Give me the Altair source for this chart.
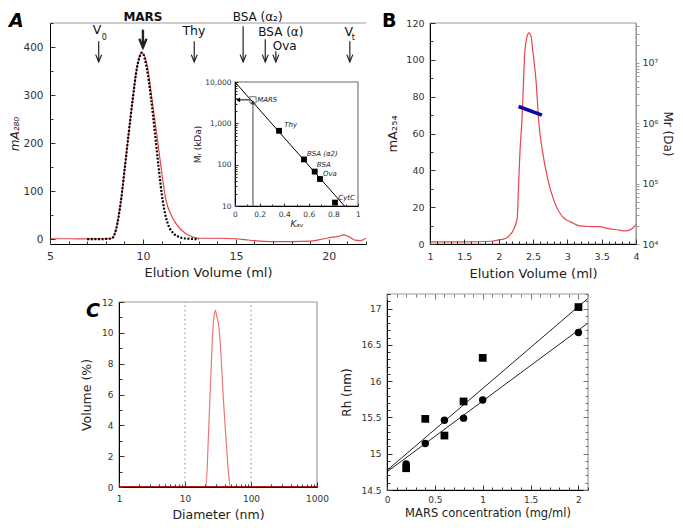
import altair as alt
import pandas as pd

FONT = "DejaVu Sans"
RED = "#e4474c"
GRAY = "#9c9c9c"
BLUE = "#0a0aa8"
TICK = "#333333"

# ---------------- Panel A: elution profile ----------------
a_red_x = [5, 6, 7, 8, 8.37, 8.55, 8.82, 9.03, 9.23, 9.44, 9.68, 9.95, 10.25, 10.5, 10.74,
           10.97, 11.24, 11.5, 11.77, 12.3, 13.1, 14, 15, 15.5, 16, 17, 18, 19, 19.5, 20,
           20.5, 20.8, 21.1, 21.4, 21.7, 22]
a_red_y = [1, 1, 0.5, 1, 3, 20, 81, 151, 220, 289, 358, 389, 358, 289, 220,
           151, 81, 52, 33, 12, 2, 2, 1, -1, -3, -5, -5, -4, -1, 3,
           6, 9, 5, -2, -3, 2]
a_fit_x = [7.0, 7.5, 8.0, 8.2, 8.37, 8.55, 8.82, 9.03, 9.23, 9.44, 9.68, 9.95, 10.2, 10.45,
           10.65, 10.84, 11.06, 11.33, 11.6, 11.87, 12.2, 12.5, 13.0]
a_fit_y = [0, 0, 0.5, 1, 3, 20, 81, 151, 220, 289, 358, 389, 358, 289,
           220, 151, 81, 33, 14, 6, 2, 1, 0]

arrow_x = [7.62, 10.0, 12.76, 15.39, 16.58, 17.15, 21.13]
arrow_top = [413, 437, 413, 444, 417, 392, 413]
arrow_tip = [370, 400, 370, 370, 370, 370, 370]
arrow_w = [1.2, 2.4, 1.2, 1.2, 1.2, 1.2, 1.2]
arrow_head = [36, 52, 36, 36, 36, 36, 36]

marker_text = ["V", "0", "Thy", "BSA (α₂)", "BSA (α)", "Ova", "V", "t"]
marker_x = [7.53, 7.92, 12.74, 16.17, 17.42, 17.63, 21.07, 21.32]
marker_y = [437, 420, 434, 463, 432, 404, 432, 420]
marker_size = [12.5, 8, 12.5, 12, 12, 12, 12.5, 8]
mars_x = [10.0]
mars_y = [463]

# inset: calibration
std_kav = [0.358, 0.561, 0.648, 0.691, 0.813]
std_mr = [660, 134, 68, 45, 12.1]
fit_kav = [0.0, 0.89]
fit_mr = [10000, 10]
mars_kav = [0.146]
mars_mr = [3700]
ins_lab = ["MARS", "Thy", "BSA (α2)", "BSA", "Ova", "CytC"]
ins_lab_x = [0.18, 0.40, 0.585, 0.665, 0.715, 0.84]
ins_lab_y = [3700, 900, 185, 97, 58, 16]

# ---------------- Panel B: MALS ----------------
b_x = [1, 1.5, 1.9, 2.0, 2.1, 2.15, 2.22, 2.27, 2.29, 2.31, 2.34, 2.36, 2.38, 2.41, 2.44,
       2.47, 2.50, 2.55, 2.58, 2.64, 2.71, 2.81, 2.95, 3.05, 3.18, 3.3, 3.47, 3.6, 3.75,
       3.84, 3.92, 4.0]
b_y = [1.2, 1.2, 1.5, 2.2, 3, 4.4, 8, 14, 32, 50, 68, 86, 104, 112, 114.6,
       113, 104, 86, 68, 50, 36, 23, 14, 12, 9.8, 9.5, 9.4, 8.3, 7.6,
       7.1, 7.8, 10.5]
b_mr_x = [2.29, 2.63]
b_mr_y = [1.89e6, 1.36e6]

# ---------------- Panel C: DLS ----------------
c_d = [1, 20.8, 22.6, 23.9, 25.4, 26.5, 27.6, 28.8, 30.2, 32.8, 35.1, 38.0, 41.7, 45.0, 48.6, 1000]
c_v = [0, 0, 3.2, 5.8, 8.6, 10.3, 11.1, 11.46, 11.1, 10.3, 8.6, 5.8, 3.2, 1.2, 0, 0]
c_base_d = [1, 1000]
c_base_v = [0, 0]
c_grid = [10, 100]

# ---------------- Panel D: Rh vs concentration ----------------
d_sq_x = [0.2, 0.4, 0.6, 0.8, 1.0, 2.0]
d_sq_y = [14.80, 15.48, 15.25, 15.72, 16.32, 17.02]
d_ci_x = [0.2, 0.4, 0.6, 0.8, 1.0, 2.0]
d_ci_y = [14.86, 15.14, 15.46, 15.49, 15.74, 16.67]
d_fit_x = [0, 2.1, 0, 2.1]
d_fit_y = [14.77, 17.14, 14.75, 16.80]
d_fit_s = ["sq", "sq", "ci", "ci"]

# ---------------- tick positions ----------------
a_xmaj, a_xmin = [5, 10, 15, 20], [v for v in range(6, 23) if v % 5]
a_ymaj, a_ymin = [0, 100, 200, 300, 400], [50, 150, 250, 350, 450]
i_xmaj, i_xmin = [0, 0.2, 0.4, 0.6, 0.8, 1], [0.1, 0.3, 0.5, 0.7, 0.9]
i_ymaj = [10, 100, 1000, 10000]
i_ymin = [m * 10 ** e for e in (1, 2, 3) for m in range(2, 10)]
b_xmaj = [1, 1.5, 2, 2.5, 3, 3.5, 4]
b_xmin = [round(1 + 0.1 * i, 1) for i in range(31) if i % 5]
b_ymaj, b_ymin = [0, 20, 40, 60, 80, 100, 120], [10, 30, 50, 70, 90, 110]
b_rmaj = [1e4, 1e5, 1e6, 1e7]
b_rmin = [m * 10 ** e for e in (4, 5, 6) for m in range(2, 10)] + [2e7, 3e7, 4e7]
c_xmaj = [1, 10, 100, 1000]
c_xmin = [m * 10 ** e for e in (0, 1, 2) for m in range(2, 10)]
c_ymaj, c_ymin = [0, 2, 4, 6, 8, 10, 12], [1, 3, 5, 7, 9, 11]
d_xmaj = [0, 0.5, 1, 1.5, 2]
d_xmin = [round(0.1 * i, 1) for i in range(22) if i % 5]
d_ymaj = [14.5, 15, 15.5, 16, 16.5, 17]
d_ymin = [round(14.5 + 0.1 * i, 1) for i in range(28) if i % 5]

# ---------------- layout (pixels inside one shared view) ----------------
W, H = 586, 467
A_X, A_Y = [0, 316], [221, 0]
I_X, I_Y = [185, 308], [183, 59]
B_X, B_Y = [380, 586], [221, 0]
C_X, C_Y = [69, 267], [464, 279]
D_X, D_Y = [337, 538], [467, 271]


def txt(t, x, y, size=19, italic=True, bold=True):
    return alt.Chart(pd.DataFrame({"t": [t]})).mark_text(
        align="left", baseline="alphabetic", fontSize=size,
        fontWeight="bold" if bold else "normal",
        fontStyle="italic" if italic else "normal", font=FONT, color="black"
    ).encode(x=alt.value(x), y=alt.value(y), text="t:N")


def ticks(xs, ys, x0, y0, xv, yv, size, xpos, ypos, xside="in_bottom", yside="in_left", color=TICK):
    """Invisible mark that only carries tick-only axes drawn inward at the given pixel lines."""
    if xside == "in_bottom":
        xa = alt.Axis(orient="top", offset=-xpos, values=xv, labels=False, domain=False,
                      tickSize=size, tickColor=color, title="", zindex=2)
    else:
        xa = alt.Axis(orient="bottom", offset=xpos - H, values=xv, labels=False, domain=False,
                      tickSize=size, tickColor=color, title="", zindex=2)
    if yside == "in_left":
        ya = alt.Axis(orient="right", offset=ypos - W, values=yv, labels=False, domain=False,
                      tickSize=size, tickColor=color, title="", zindex=2)
    else:
        ya = alt.Axis(orient="left", offset=-ypos, values=yv, labels=False, domain=False,
                      tickSize=size, tickColor=color, title="", zindex=2)
    return alt.Chart(pd.DataFrame({"x": [x0], "y": [y0]})).mark_point(opacity=0, size=1).encode(
        x=alt.X("x:Q", scale=xs, axis=xa), y=alt.Y("y:Q", scale=ys, axis=ya))


anchor = alt.Chart(pd.DataFrame({"v": [0]})).mark_point(size=1, opacity=0).encode(
    x=alt.value(-41), y=alt.value(-14))

# ---------- A main ----------
axs = alt.Scale(domain=[5, 22], range=A_X, nice=False, zero=False)
ays = alt.Scale(domain=[-10, 451], range=A_Y, nice=False, zero=False)
a_xaxis = alt.Axis(orient="bottom", offset=-(H - A_Y[0]), values=a_xmaj, ticks=False,
                   labelFlush=False, title="Elution Volume (ml)", titleFontSize=13,
                   labelFontSize=11, labelPadding=6, titlePadding=5, zindex=1)
a_yaxis = alt.Axis(orient="left", values=a_ymaj, ticks=False, title="mA₂₈₀",
                   titleFontSize=12, titleFontStyle="italic", labelFontSize=10.5,
                   labelPadding=7, titlePadding=1, zindex=1)

a_red = alt.Chart(pd.DataFrame({"x": a_red_x, "y": a_red_y})).mark_line(
    color=RED, strokeWidth=1.2, interpolate="monotone"
).encode(x=alt.X("x:Q", scale=axs, axis=a_xaxis), y=alt.Y("y:Q", scale=ays, axis=a_yaxis))
a_fit = alt.Chart(pd.DataFrame({"x": a_fit_x, "y": a_fit_y})).mark_line(
    color="black", strokeWidth=2.2, strokeDash=[2, 1.6], interpolate="monotone"
).encode(x=alt.X("x:Q", scale=axs), y=alt.Y("y:Q", scale=ays))
arr_df = pd.DataFrame({"x": arrow_x, "y": arrow_tip, "top": arrow_top, "w": arrow_w, "h": arrow_head})
a_arr = alt.Chart(arr_df).mark_rule(color="#222").encode(
    x=alt.X("x:Q", scale=axs), y=alt.Y("top:Q", scale=ays), y2="y:Q",
    strokeWidth=alt.StrokeWidth("w:Q", scale=None))
a_head = alt.Chart(arr_df).mark_point(
    shape="M-1,-2.4L0,0L1,-2.4", filled=False, color="#222", opacity=1
).encode(x=alt.X("x:Q", scale=axs), y=alt.Y("y:Q", scale=ays),
         size=alt.Size("h:Q", scale=None), strokeWidth=alt.StrokeWidth("w:Q", scale=None))
lab_df = pd.DataFrame({"x": marker_x, "y": marker_y, "t": marker_text, "s": marker_size})
a_lab = alt.Chart(lab_df).mark_text(font=FONT, color="#111", baseline="middle").encode(
    x=alt.X("x:Q", scale=axs), y=alt.Y("y:Q", scale=ays), text="t:N",
    size=alt.Size("s:Q", scale=None))
a_mars = alt.Chart(pd.DataFrame({"x": mars_x, "y": mars_y, "t": ["MARS"]})).mark_text(
    font=FONT, fontSize=12, fontWeight="bold", color="#111", baseline="middle"
).encode(x=alt.X("x:Q", scale=axs), y=alt.Y("y:Q", scale=ays), text="t:N")
a_top = alt.Chart(pd.DataFrame({"x": [5], "x2": [22], "y": [451]})).mark_rule(
    color=GRAY, strokeWidth=1.2).encode(
    x=alt.X("x:Q", scale=axs), x2="x2:Q", y=alt.Y("y:Q", scale=ays))
A_main = alt.layer(a_red, a_fit, a_arr, a_head, a_lab, a_mars, a_top)
A_t1 = ticks(axs, ays, 5, 0, a_xmaj, a_ymaj, 5, A_Y[0], A_X[0])
A_t2 = ticks(axs, ays, 5, 0, a_xmin, a_ymin, 3, A_Y[0], A_X[0])

# ---------- A inset ----------
ixs = alt.Scale(domain=[0, 1], range=I_X, nice=False, zero=False)
iys = alt.Scale(type="log", domain=[10, 10000], range=I_Y, nice=False)
i_xaxis = alt.Axis(orient="bottom", offset=-(H - I_Y[0]), values=i_xmaj, ticks=False,
                   format="~g", labelFlush=False, labelFontSize=7.5, labelPadding=4,
                   title="Kₐᵥ", titleFontSize=9, titleFontStyle="italic", titlePadding=2, zindex=1)
i_yaxis = alt.Axis(orient="left", offset=-I_X[0], values=i_ymaj, ticks=False,
                   format=",", labelFontSize=7.5, labelPadding=4, title="Mᵣ (kDa)",
                   titleFontSize=9, titlePadding=2, zindex=1)
i_line = alt.Chart(pd.DataFrame({"k": fit_kav, "m": fit_mr})).mark_line(
    color="black", strokeWidth=1).encode(
    x=alt.X("k:Q", scale=ixs, axis=i_xaxis), y=alt.Y("m:Q", scale=iys, axis=i_yaxis))
i_frame = alt.Chart(pd.DataFrame({"k": [0], "k2": [1], "m": [10], "m2": [10000]})).mark_rect(
    filled=False, color=GRAY, strokeWidth=1.6).encode(
    x=alt.X("k:Q", scale=ixs), x2="k2:Q", y=alt.Y("m:Q", scale=iys), y2="m2:Q")
i_vline = alt.Chart(pd.DataFrame({"k": mars_kav, "m": [10], "m2": [3300]})).mark_rule(
    color="#777", strokeWidth=1.4).encode(
    x=alt.X("k:Q", scale=ixs), y=alt.Y("m:Q", scale=iys), y2="m2:Q")
i_up = alt.Chart(pd.DataFrame({"k": mars_kav, "m": [3250]})).mark_point(
    shape="triangle-up", filled=True, color="black", size=22, opacity=1).encode(
    x=alt.X("k:Q", scale=ixs), y=alt.Y("m:Q", scale=iys))
i_hline = alt.Chart(pd.DataFrame({"k": [0.13], "k2": [0.015], "m": mars_mr})).mark_rule(
    color="black", strokeWidth=1).encode(
    x=alt.X("k:Q", scale=ixs), x2="k2:Q", y=alt.Y("m:Q", scale=iys))
i_left = alt.Chart(pd.DataFrame({"k": [0.025], "m": mars_mr})).mark_point(
    shape="triangle-left", filled=True, color="black", size=22, opacity=1).encode(
    x=alt.X("k:Q", scale=ixs), y=alt.Y("m:Q", scale=iys))
i_mars = alt.Chart(pd.DataFrame({"k": mars_kav, "m": mars_mr})).mark_point(
    shape="square", filled=False, color="#777", size=40, opacity=1, strokeWidth=1).encode(
    x=alt.X("k:Q", scale=ixs), y=alt.Y("m:Q", scale=iys))
i_std = alt.Chart(pd.DataFrame({"k": std_kav, "m": std_mr})).mark_point(
    shape="square", filled=True, color="black", size=34, opacity=1).encode(
    x=alt.X("k:Q", scale=ixs), y=alt.Y("m:Q", scale=iys))
i_text = alt.Chart(pd.DataFrame({"k": ins_lab_x, "m": ins_lab_y, "t": ins_lab})).mark_text(
    font=FONT, fontSize=7, fontStyle="italic", align="left", baseline="middle", color="#222").encode(
    x=alt.X("k:Q", scale=ixs), y=alt.Y("m:Q", scale=iys), text="t:N")
A_inset = alt.layer(i_frame, i_line, i_vline, i_up, i_hline, i_left, i_mars, i_std, i_text)
I_t1 = ticks(ixs, iys, 0, 10, i_xmaj, i_ymaj, 3, I_Y[0], I_X[0])
I_t2 = ticks(ixs, iys, 0, 10, i_xmin, i_ymin, 2, I_Y[0], I_X[0])

# ---------- B ----------
bxs = alt.Scale(domain=[1, 4], range=B_X, nice=False, zero=False)
bys = alt.Scale(domain=[0, 120], range=B_Y, nice=False, zero=False)
brs = alt.Scale(type="log", domain=[1e4, 10 ** 7.66], range=B_Y, nice=False)
b_xaxis = alt.Axis(orient="bottom", offset=-(H - B_Y[0]), values=b_xmaj, ticks=False,
                   format="~g", labelFlush=False, labelOverlap=False, title="Elution Volume (ml)",
                   titleFontSize=13, labelFontSize=9.5, labelPadding=7, titlePadding=7, zindex=1)
b_yaxis = alt.Axis(orient="left", offset=-B_X[0], values=b_ymaj, ticks=False,
                   title="mA₂₅₄", titleFontSize=13, labelFontSize=9.5,
                   labelPadding=6, titlePadding=6, zindex=1)
b_raxis = alt.Axis(orient="right", offset=-(W - B_X[1]), values=b_rmaj + b_rmin,
                   labelExpr="datum.value == 1e4 ? '10⁴' : datum.value == 1e5 ? '10⁵' : datum.value == 1e6 ? '10⁶' : datum.value == 1e7 ? '10⁷' : ''",
                   labelOverlap=False, title="Mr (Da)", titleFontSize=12, labelFontSize=9.5,
                   tickSize=3, labelPadding=3, titlePadding=3, domainColor=GRAY, tickColor=GRAY,
                   zindex=1)
b_red = alt.Chart(pd.DataFrame({"x": b_x, "y": b_y})).mark_line(
    color=RED, strokeWidth=1.2, interpolate="monotone").encode(
    x=alt.X("x:Q", scale=bxs, axis=b_xaxis), y=alt.Y("y:Q", scale=bys, axis=b_yaxis))
b_frame = alt.Chart(pd.DataFrame({"x": [1], "x2": [4], "y": [0], "y2": [120]})).mark_rect(
    filled=False, color=GRAY, strokeWidth=1.2).encode(
    x=alt.X("x:Q", scale=bxs), x2="x2:Q", y=alt.Y("y:Q", scale=bys), y2="y2:Q")
b_blue = alt.Chart(pd.DataFrame({"x": b_mr_x, "m": b_mr_y})).mark_line(
    color=BLUE, strokeWidth=3.6).encode(
    x=alt.X("x:Q", scale=bxs), y=alt.Y("m:Q", scale=brs, axis=b_raxis))
B = alt.layer(alt.layer(b_frame, b_red), b_blue).resolve_scale(y="independent").resolve_axis(
    y="independent")
B_t1 = ticks(bxs, bys, 1, 0, b_xmaj, b_ymaj, 5, B_Y[0], B_X[0])
B_t2 = ticks(bxs, bys, 1, 0, b_xmin, b_ymin, 3, B_Y[0], B_X[0])

# ---------- C ----------
cxs = alt.Scale(type="log", domain=[1, 1000], range=C_X, nice=False)
cys = alt.Scale(domain=[0, 12], range=C_Y, nice=False, zero=False)
c_xaxis = alt.Axis(orient="bottom", offset=-(H - C_Y[0]), values=c_xmaj, ticks=False,
                   format="d", labelFlush=False, labelOverlap=False, title="Diameter (nm)",
                   titleFontSize=12.5, labelFontSize=9, labelPadding=7, titlePadding=5, zindex=1)
c_yaxis = alt.Axis(orient="left", offset=-C_X[0], values=c_ymaj, ticks=False,
                   labelOverlap=False, title="Volume (%)", titleFontSize=12.5, labelFontSize=9,
                   labelPadding=6, titlePadding=8, zindex=1)
c_frame = alt.Chart(pd.DataFrame({"d": [1], "d2": [1000], "v": [0], "v2": [12]})).mark_rect(
    filled=False, color=GRAY, strokeWidth=1.2).encode(
    x=alt.X("d:Q", scale=cxs), x2="d2:Q", y=alt.Y("v:Q", scale=cys), y2="v2:Q")
c_grid_l = alt.Chart(pd.DataFrame({"d": c_grid, "v": [0, 0], "v2": [12, 12]})).mark_rule(
    color="#888", strokeDash=[1.5, 3], strokeWidth=1).encode(
    x=alt.X("d:Q", scale=cxs), y=alt.Y("v:Q", scale=cys), y2="v2:Q")
c_curve = alt.Chart(pd.DataFrame({"d": c_d, "v": c_v})).mark_line(
    color="#ef7676", strokeWidth=1.2, interpolate="monotone").encode(
    x=alt.X("d:Q", scale=cxs, axis=c_xaxis), y=alt.Y("v:Q", scale=cys, axis=c_yaxis))
c_base = alt.Chart(pd.DataFrame({"d": c_base_d, "v": c_base_v})).mark_line(
    color="#c21818", strokeWidth=2).encode(x=alt.X("d:Q", scale=cxs), y=alt.Y("v:Q", scale=cys))
C = alt.layer(c_curve, c_frame, c_grid_l, c_base)
C_t1 = ticks(cxs, cys, 1, 0, c_xmaj, c_ymaj, 5, C_Y[0], C_X[0])
C_t2 = ticks(cxs, cys, 1, 0, c_xmin, c_ymin, 3, C_Y[0], C_X[0])

# ---------- D ----------
dxs = alt.Scale(domain=[0, 2.1], range=D_X, nice=False, zero=False)
dys = alt.Scale(domain=[14.5, 17.2], range=D_Y, nice=False, zero=False)
d_xaxis = alt.Axis(orient="bottom", offset=-(H - D_Y[0]), values=d_xmaj, ticks=False, format="~g",
                   labelFlush=False, labelOverlap=False, title="MARS concentration (mg/ml)",
                   titleFontSize=11.5, labelFontSize=9, labelPadding=5, titlePadding=3, zindex=1)
d_yaxis = alt.Axis(orient="left", offset=-D_X[0], values=d_ymaj, ticks=False,
                   format="~g", labelOverlap=False, title="Rh (nm)", titleFontSize=12,
                   labelFontSize=9, labelPadding=6, titlePadding=7, zindex=1)
d_frame = alt.Chart(pd.DataFrame({"x": [0], "x2": [2.1], "y": [14.5], "y2": [17.2]})).mark_rect(
    filled=False, color=GRAY, strokeWidth=1.2).encode(
    x=alt.X("x:Q", scale=dxs), x2="x2:Q", y=alt.Y("y:Q", scale=dys), y2="y2:Q")
d_lines = alt.Chart(pd.DataFrame({"x": d_fit_x, "y": d_fit_y, "s": d_fit_s})).mark_line(
    color="#222", strokeWidth=1).encode(
    x=alt.X("x:Q", scale=dxs, axis=d_xaxis), y=alt.Y("y:Q", scale=dys, axis=d_yaxis), detail="s:N")
d_sq = alt.Chart(pd.DataFrame({"x": d_sq_x, "y": d_sq_y})).mark_square(
    color="black", size=60, opacity=1).encode(x=alt.X("x:Q", scale=dxs), y=alt.Y("y:Q", scale=dys))
d_ci = alt.Chart(pd.DataFrame({"x": d_ci_x, "y": d_ci_y})).mark_circle(
    color="black", size=55, opacity=1).encode(x=alt.X("x:Q", scale=dxs), y=alt.Y("y:Q", scale=dys))
D = alt.layer(d_lines, d_frame, d_sq, d_ci)
D_t1 = ticks(dxs, dys, 0, 14.5, d_xmaj, d_ymaj, 5, D_Y[0], D_X[0])
D_t2 = ticks(dxs, dys, 0, 14.5, d_xmin, d_ymin, 3, D_Y[0], D_X[0])
D_t3 = ticks(dxs, dys, 0, 14.5, d_xmaj, d_ymaj, 5, D_Y[1], D_X[1],
             xside="in_top", yside="in_right", color="#777")
D_t4 = ticks(dxs, dys, 0, 14.5, d_xmin, d_ymin, 3, D_Y[1], D_X[1],
             xside="in_top", yside="in_right", color="#777")

chart = alt.layer(
    A_main, A_inset, B, C, D,
    A_t1, A_t2, I_t1, I_t2, B_t1, B_t2, C_t1, C_t2, D_t1, D_t2, D_t3, D_t4,
    txt("A", -41, 4), txt("B", 332, 4, italic=False), txt("C", 36, 294), anchor
).resolve_scale(x="independent", y="independent").resolve_axis(
    x="independent", y="independent"
).properties(width=W, height=H, padding=0).configure(font=FONT).configure_axis(
    grid=False, labelFont=FONT, titleFont=FONT, domainColor="black", tickColor="black",
    labelColor="#333", titleColor="#222", titleFontWeight="normal", labelOverlap=False
).configure_view(strokeOpacity=0)

chart.save("out.html", embed_options={"renderer": "svg", "actions": False})
